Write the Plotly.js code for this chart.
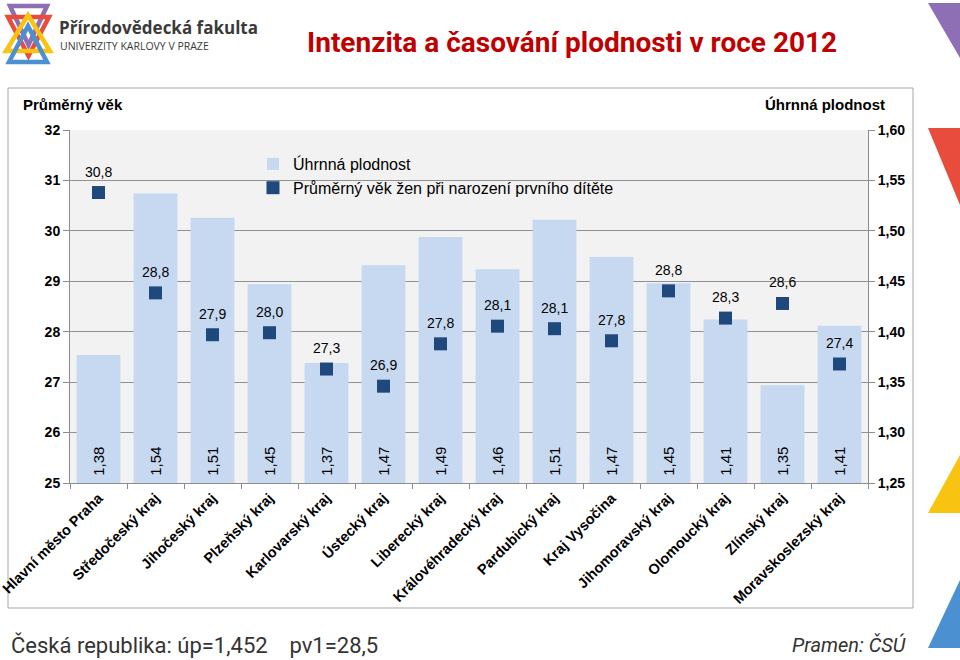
<!DOCTYPE html>
<html><head><meta charset="utf-8">
<script src="https://cdn.plot.ly/plotly-3.0.1.min.js"></script>
<style>body{margin:0;background:#fff}#c{width:960px;height:660px}</style>
</head><body><div id="c"></div>
<script>
const regions = ["Hlavní město Praha","Středočeský kraj","Jihočeský kraj","Plzeňský kraj","Karlovarský kraj","Ústecký kraj","Liberecký kraj","Královéhradecký kraj","Pardubický kraj","Kraj Vysočina","Jihomoravský kraj","Olomoucký kraj","Zlínský kraj","Moravskoslezský kraj"];
const tfr = [1.377,1.537,1.513,1.447,1.369,1.466,1.494,1.462,1.511,1.474,1.448,1.412,1.347,1.406];
const age = [30.76,28.77,27.94,27.98,27.26,26.92,27.76,28.11,28.06,27.82,28.81,28.27,28.56,27.36];
const ageTicks = [25,26,27,28,29,30,31,32];
const tfrTicks = [1.25,1.30,1.35,1.40,1.45,1.50,1.55,1.60];
const seriesNames = ["Úhrnná plodnost","Průměrný věk žen při narození prvního dítěte"];
const titleText = "Intenzita a časování plodnosti v roce 2012";
const footerText = "Česká republika: úp=1,452\u00a0\u00a0\u00a0\u00a0pv1=28,5";
const sourceText = "Pramen: ČSÚ";

const L=70, R=868, T=130, B=483;
const px = p => (p - L)/(R - L);
const py = p => (B - p)/(B - T);
const comma = (v,d) => v.toFixed(d).replace('.', ',');
const FONT = "Liberation Sans, Arial, sans-serif";

const traces = [
  {type:'bar', name:seriesNames[0], x:regions, y:tfr, yaxis:'y',
   marker:{color:'#c6d9f1'}, hoverinfo:'skip'},
  {type:'scatter', mode:'markers', name:seriesNames[1], x:regions, y:age, yaxis:'y2',
   marker:{symbol:'square', size:13, color:'#1f497d'}, hoverinfo:'skip'}
];

function tri(pts, opts){
  let d = 'M' + pts.map(p => px(p[0]) + ',' + py(p[1])).join(' L') + ' Z';
  return Object.assign({type:'path', xref:'paper', yref:'paper', path:d, layer:'above'}, opts);
}
const shapes = [
  {type:'rect', xref:'paper', yref:'paper', x0:px(8), x1:px(913), y0:py(88), y1:py(608),
   line:{color:'#a6a6a6', width:1}, fillcolor:'rgba(0,0,0,0)', layer:'below'},
  tri([[928,3],[960,3],[960,58]], {fillcolor:'#8e6fb5', line:{width:0}}),
  tri([[928,128],[960,128],[960,205]], {fillcolor:'#e84c3d', line:{width:0}}),
  tri([[960,455],[928,513],[960,513]], {fillcolor:'#f9c311', line:{width:0}}),
  tri([[960,580],[928,648],[960,648]], {fillcolor:'#4b90d0', line:{width:0}}),
  tri([[10,6],[47,6],[28.5,45]], {line:{color:'#8e6fb5', width:4.5}}),
  tri([[8,17],[49,17],[28.5,56]], {line:{color:'#e84c3d', width:4.5}}),
  tri([[6,51],[50,51],[28,15]], {line:{color:'#f9c311', width:4.5}}),
  tri([[9,62],[47,62],[28,26]], {line:{color:'#4b90d0', width:4.5}})
];

const annotations = [];
regions.forEach((r,i) => {
  annotations.push({x:r, y:age[i], xref:'x', yref:'y2', text:comma(age[i],1), showarrow:false,
    yshift:21, yanchor:'middle', font:{family:FONT, size:14, color:'#000'}});
  annotations.push({x:r, y:1.2715, xref:'x', yref:'y', text:comma(tfr[i],2), showarrow:false,
    textangle:-90, yanchor:'middle', font:{family:FONT, size:15, color:'#000'}});
});
const A = (x, y, text, xa, font) => ({xref:'paper', yref:'paper', x:px(x), y:py(y), xanchor:xa, yanchor:'middle',
  text:text, showarrow:false, font:font});
annotations.push(
  A(572, 43, '<b>'+titleText+'</b>', 'center', {family:'Roboto, sans-serif', size:28, color:'#c00000'}),
  A(57, 27, '<b>Přírodovědecká fakulta</b>', 'left', {family:'Open Sans, sans-serif', size:17, color:'#3a3a3a'}),
  A(58, 46, 'UNIVERZITY KARLOVY V PRAZE', 'left', {family:'Open Sans, sans-serif', size:10.5, color:'#3a3a3a'}),
  A(21, 105, '<b>Průměrný věk</b>', 'left', {family:FONT, size:15, color:'#000'}),
  A(887, 105, '<b>Úhrnná plodnost</b>', 'right', {family:FONT, size:15, color:'#000'}),
  A(9, 645, footerText, 'left', {family:'Roboto, sans-serif', size:22, color:'#333'}),
  A(908, 645, '<i>'+sourceText+'</i>', 'right', {family:'Roboto, sans-serif', size:20, color:'#333'})
);

const layout = {
  width:960, height:660,
  margin:{l:L, r:960-R, t:T, b:660-B},
  paper_bgcolor:'#fff', plot_bgcolor:'#f2f2f2',
  separators:',.',
  showlegend:true,
  legend:{x:px(253), y:py(147), xanchor:'left', yanchor:'top', bgcolor:'rgba(0,0,0,0)',
          font:{family:FONT, size:16, color:'#000'}, tracegroupgap:0},
  bargap:0.23,
  xaxis:{type:'category', range:[-0.5, regions.length-0.5], tickangle:-45, ticks:'outside', tickson:'boundaries', ticklen:5,
         tickcolor:'#8c8c8c', showline:true, linecolor:'#8c8c8c',
         tickfont:{family:FONT, size:14.5, color:'#000', weight:'bold'}, showgrid:false},
  yaxis:{side:'right', range:[1.25,1.60], tickvals:tfrTicks, tickformat:'.2f', ticks:'outside', ticklen:6,
         tickcolor:'#8c8c8c', showline:true, linecolor:'#8c8c8c', showgrid:true, gridcolor:'#919191',
         zeroline:false, tickfont:{family:FONT, size:14, color:'#000', weight:'bold'}},
  yaxis2:{overlaying:'y', side:'left', range:[25,32], tickvals:ageTicks, ticks:'outside', ticklen:6,
          tickcolor:'#8c8c8c', showline:true, linecolor:'#8c8c8c', showgrid:false, zeroline:false,
          tickfont:{family:FONT, size:14, color:'#000', weight:'bold'}},
  shapes:shapes, annotations:annotations
};
Plotly.newPlot('c', traces, layout, {displayModeBar:false, staticPlot:true});
</script></body></html>
